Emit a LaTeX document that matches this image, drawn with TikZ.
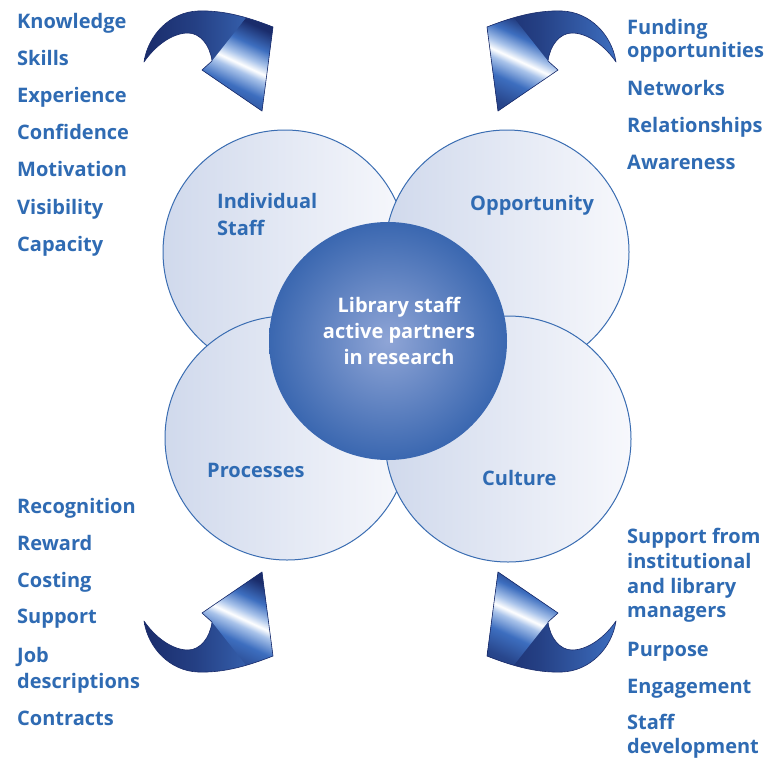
\documentclass[tikz,border=0pt]{standalone}
\usepackage{fontspec}
\setmainfont{Open Sans}
\definecolor{txtblue}{HTML}{2F6BB3}
\definecolor{ringblue}{HTML}{3A6DB2}
\definecolor{circL}{HTML}{D0D9EC}
\definecolor{circR}{HTML}{F7F8FC}
\definecolor{coreIn}{HTML}{8FA5D6}
\definecolor{coreOut}{HTML}{3A67B0}
\definecolor{navy}{HTML}{1A2C6B}
\definecolor{arrowmid}{HTML}{3D6EBF}
\definecolor{arrowlight}{HTML}{A9C3EA}
\pgfdeclarehorizontalshading{bandshade}{100bp}{color(0bp)=(navy); color(25bp)=(navy); color(45bp)=(navy!70!arrowmid); color(75bp)=(arrowmid); color(100bp)=(arrowmid)}
\pgfdeclarehorizontalshading{headshade}{100bp}{color(0bp)=(navy); color(25bp)=(navy!60!arrowmid); color(38bp)=(arrowmid); color(47bp)=(arrowlight); color(51bp)=(white); color(56bp)=(arrowlight); color(64bp)=(arrowmid); color(75bp)=(navy); color(100bp)=(navy)}
\newcommand{\swoosh}[1]{%
  \begin{scope}[#1]
    \shade[shading=bandshade, shading angle=0]
      (144,62) .. controls (148,35) and (170,12) .. (198,11)
      .. controls (225,10) and (250,18) .. (273,27)
      -- (262,111) -- (202,70) -- (212,61)
      .. controls (210,45) and (200,33) .. (188,33)
      .. controls (172,33) and (155,46) .. cycle;
    \shade[shading=headshade, shading angle=65]
      (212,61) -- (246,18) .. controls (257,21) and (265,24) .. (273,27)
      -- (262,111) -- (202,70) -- cycle;
    \draw[navy, line width=0.6pt, line join=round]
      (144,62) .. controls (148,35) and (170,12) .. (198,11)
      .. controls (225,10) and (250,18) .. (273,27)
      -- (262,111) -- (202,70) -- (212,61)
      .. controls (210,45) and (200,33) .. (188,33)
      .. controls (172,33) and (155,46) .. cycle;
  \end{scope}}
\begin{document}
\begin{tikzpicture}[x=1pt,y=-1pt,
  petal/.style={circle, draw=ringblue, line width=1pt, left color=circL, right color=circR, inner sep=0pt, outer sep=0pt},
  item/.style={anchor=base west, inner sep=0pt, text=txtblue, font=\fontsize{20}{24}\selectfont\bfseries},
  lab/.style={anchor=base west, inner sep=0pt, text=txtblue, font=\fontsize{20}{24}\selectfont\bfseries},
  coretxt/.style={anchor=base, inner sep=0pt, text=white, font=\fontsize{20}{24}\selectfont\bfseries}]
\useasboundingbox (0,0) rectangle (766,758);
\fill[white] (0,0) rectangle (766,758);

% curved arrows
\swoosh{}
\swoosh{shift={(760,0)}, xscale=-1}
\swoosh{shift={(0,683)}, yscale=-1}
\swoosh{shift={(760,683)}, xscale=-1, yscale=-1}

% circles
\node[petal, minimum size=244pt] (indiv) at (285,252) {};
\node[petal, minimum size=244pt] (oppo) at (507,252) {};
\node[petal, minimum size=244pt] (proc) at (287,438) {};
\node[petal, minimum size=246pt] (cult) at (508,439) {};
\node[circle, inner sep=0pt, minimum size=238pt, inner color=coreIn, outer color=coreOut] (core) at (388,341) {};

% circle labels
\node[lab] (lindiv1) at (217,208) {Individual};
\node[lab] (lindiv2) at (217,235) {Staff};
\node[lab] (loppo) at (470,210) {Opportunity};
\node[lab] (lproc) at (207,477) {Processes};
\node[lab] (lcult) at (482,485) {Culture};
\node[coretxt] (core1) at (399,312) {Library staff};
\node[coretxt] (core2) at (399,338) {active partners};
\node[coretxt] (core3) at (399,364) {in research};

% top-left list
\node[item] (k1) at (17,28) {Knowledge};
\node[item] (k2) at (17,65) {Skills};
\node[item] (k3) at (17,102) {Experience};
\node[item] (k4) at (17,139) {Confidence};
\node[item] (k5) at (17,176) {Motivation};
\node[item] (k6) at (17,214) {Visibility};
\node[item] (k7) at (17,251) {Capacity};

% top-right list
\node[item] (f1) at (627,34) {Funding};
\node[item] (f2) at (627,57) {opportunities};
\node[item] (f3) at (627,95) {Networks};
\node[item] (f4) at (627,132) {Relationships};
\node[item] (f5) at (627,169) {Awareness};

% bottom-left list
\node[item] (r1) at (17,513) {Recognition};
\node[item] (r2) at (17,550) {Reward};
\node[item] (r3) at (17,587) {Costing};
\node[item] (r4) at (17,623) {Support};
\node[item] (r5) at (17,662) {Job};
\node[item] (r6) at (17,688) {descriptions};
\node[item] (r7) at (17,725) {Contracts};

% bottom-right list
\node[item] (s1) at (627,543) {Support from};
\node[item] (s2) at (627,568) {institutional};
\node[item] (s3) at (627,593) {and library};
\node[item] (s4) at (627,617) {managers};
\node[item] (s5) at (627,656) {Purpose};
\node[item] (s6) at (627,693) {Engagement};
\node[item] (s7) at (627,729) {Staff};
\node[item] (s8) at (627,753) {development};
\end{tikzpicture}
\end{document}
